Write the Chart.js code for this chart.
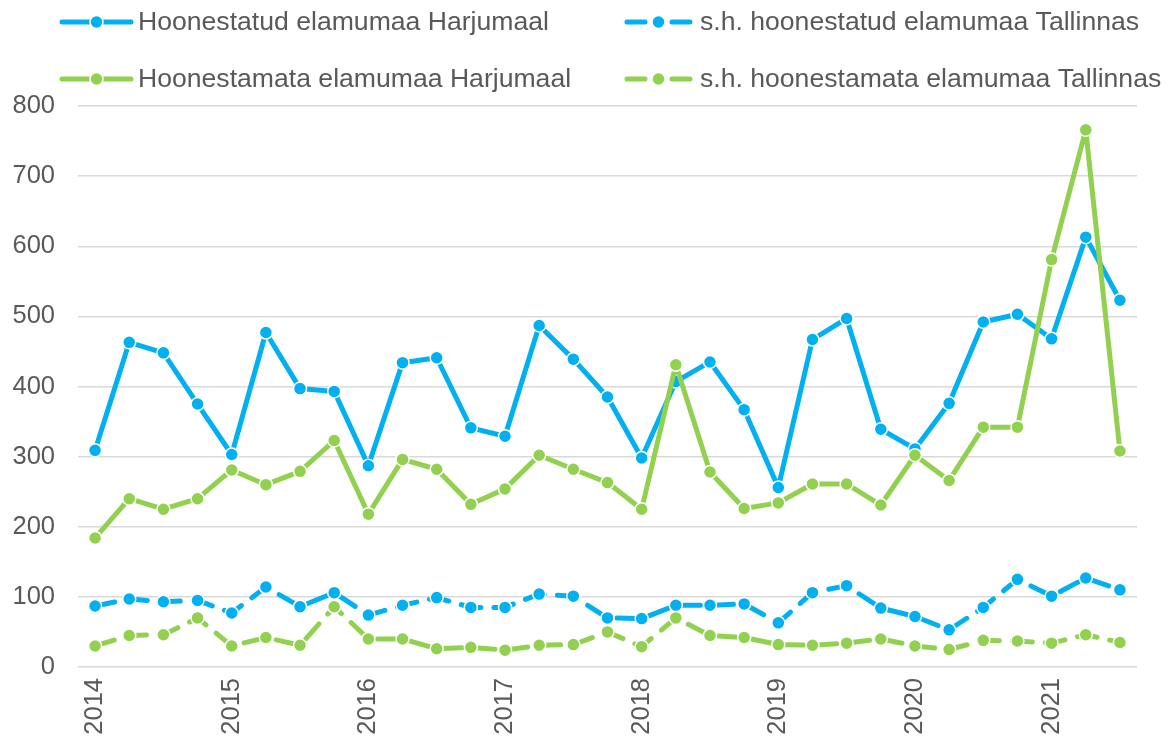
<!DOCTYPE html>
<html>
<head>
<meta charset="utf-8">
<script src="https://cdn.jsdelivr.net/npm/chart.js@4.4.1/dist/chart.umd.min.js"></script>
<style>
  html, body { margin: 0; padding: 0; background: #ffffff; }
  #wrap { width: 1175px; height: 738px; }
</style>
</head>
<body>
<div id="wrap"><canvas id="c" width="1175" height="738"></canvas></div>
<script>
const categories = [
  '2014 Q1','2014 Q2','2014 Q3','2014 Q4',
  '2015 Q1','2015 Q2','2015 Q3','2015 Q4',
  '2016 Q1','2016 Q2','2016 Q3','2016 Q4',
  '2017 Q1','2017 Q2','2017 Q3','2017 Q4',
  '2018 Q1','2018 Q2','2018 Q3','2018 Q4',
  '2019 Q1','2019 Q2','2019 Q3','2019 Q4',
  '2020 Q1','2020 Q2','2020 Q3','2020 Q4',
  '2021 Q1','2021 Q2','2021 Q3'
];
const tickYears = ['2014','2015','2016','2017','2018','2019','2020','2021'];

const seriesNames = [
  'Hoonestatud elamumaa Harjumaal',
  's.h. hoonestatud elamumaa Tallinnas',
  'Hoonestamata elamumaa Harjumaal',
  's.h. hoonestamata elamumaa Tallinnas'
];

const hoonestatudHarju = [309,463,448,375, 303,477,397,393, 287,434,441,341, 329,487,439,385, 298,407,435,367, 256,467,497,339, 311,376,492,503, 468,613,523];
const hoonestatudTallinn = [87,97,93,95, 77,114,86,106, 74,88,99,85, 85,104,101,70, 69,88,88,90, 63,106,116,84, 72,53,85,125, 101,127,110];
const hoonestamataHarju = [184,240,225,240, 281,260,279,323, 218,296,282,232, 254,302,282,263, 225,431,278,226, 234,261,261,231, 302,266,342,342, 581,766,308];
const hoonestamataTallinn = [30,45,46,70, 30,42,31,86, 40,40,26,28, 24,31,32,50, 29,70,45,42, 32,31,34,40, 30,25,38,37, 34,46,35];

const BLUE = '#00B0F0';
const GREEN = '#92D050';
const TEXT = '#595959';
const FONT = "'Liberation Sans', Arial, sans-serif";
const DASH = [20, 13];

function ds(label, data, color, dashed, order) {
  return {
    label: label,
    data: data,
    borderColor: color,
    backgroundColor: color,
    borderWidth: 5,
    borderDash: dashed ? DASH : [],
    borderCapStyle: 'round',
    borderJoinStyle: 'round',
    pointRadius: 6.5,
    pointHoverRadius: 6.5,
    pointBackgroundColor: color,
    pointBorderColor: '#ffffff',
    pointBorderWidth: 1.5,
    tension: 0,
    fill: false,
    order: order
  };
}

const legendPlugin = {
  id: 'customLegend',
  afterDraw(chart) {
    const ctx = chart.ctx;
    const items = [
      { name: seriesNames[0], color: BLUE, dashed: false, x: 60, y: 22 },
      { name: seriesNames[1], color: BLUE, dashed: true, x: 625, y: 22 },
      { name: seriesNames[2], color: GREEN, dashed: false, x: 60, y: 79 },
      { name: seriesNames[3], color: GREEN, dashed: true, x: 625, y: 79 }
    ];
    ctx.save();
    items.forEach(it => {
      ctx.strokeStyle = it.color;
      ctx.fillStyle = it.color;
      ctx.lineWidth = 5;
      ctx.lineCap = 'round';
      let textX;
      if (!it.dashed) {
        ctx.beginPath();
        ctx.moveTo(it.x + 2, it.y);
        ctx.lineTo(it.x + 71, it.y);
        ctx.stroke();
        ctx.beginPath();
        ctx.arc(it.x + 36.5, it.y, 6.5, 0, Math.PI * 2);
        ctx.fill();
        ctx.strokeStyle = '#ffffff';
        ctx.lineWidth = 1.5;
        ctx.stroke();
        textX = it.x + 78;
      } else {
        ctx.beginPath();
        ctx.moveTo(it.x + 2, it.y);
        ctx.lineTo(it.x + 20, it.y);
        ctx.moveTo(it.x + 47, it.y);
        ctx.lineTo(it.x + 65, it.y);
        ctx.stroke();
        ctx.beginPath();
        ctx.arc(it.x + 33.5, it.y, 6.5, 0, Math.PI * 2);
        ctx.fill();
        ctx.strokeStyle = '#ffffff';
        ctx.lineWidth = 1.5;
        ctx.stroke();
        textX = it.x + 75;
      }
      ctx.fillStyle = TEXT;
      ctx.font = '26.6px ' + FONT;
      ctx.textBaseline = 'middle';
      ctx.textAlign = 'left';
      ctx.fillText(it.name, textX, it.y + 1);
    });
    ctx.restore();
  }
};

new Chart(document.getElementById('c'), {
  type: 'line',
  data: {
    labels: categories,
    datasets: [
      ds(seriesNames[0], hoonestatudHarju, BLUE, false, 4),
      ds(seriesNames[1], hoonestatudTallinn, BLUE, true, 3),
      ds(seriesNames[2], hoonestamataHarju, GREEN, false, 2),
      ds(seriesNames[3], hoonestamataTallinn, GREEN, true, 1)
    ]
  },
  options: {
    responsive: false,
    animation: false,
    devicePixelRatio: 1,
    layout: { padding: { top: 106, right: 38, left: 0, bottom: 0 } },
    plugins: {
      legend: { display: false },
      tooltip: { enabled: false },
      title: { display: false }
    },
    scales: {
      x: {
        offset: true,
        grid: { display: false, drawTicks: false },
        border: { display: false },
        ticks: {
          autoSkip: false,
          minRotation: 90,
          maxRotation: 90,
          padding: 11,
          color: TEXT,
          font: { family: FONT, size: 25.5 },
          callback: function(value, index) {
            return index % 4 === 0 ? tickYears[index / 4] : '';
          }
        },
        afterFit: function(scale) { scale.height = 71; }
      },
      y: {
        min: 0,
        max: 800,
        grid: { color: '#d9d9d9', lineWidth: 1.5, drawTicks: false },
        border: { display: false },
        ticks: {
          stepSize: 100,
          padding: 23,
          color: TEXT,
          font: { family: FONT, size: 25.5 }
        },
        afterFit: function(scale) { scale.width = 78; }
      }
    }
  },
  plugins: [legendPlugin]
});
</script>
</body>
</html>
